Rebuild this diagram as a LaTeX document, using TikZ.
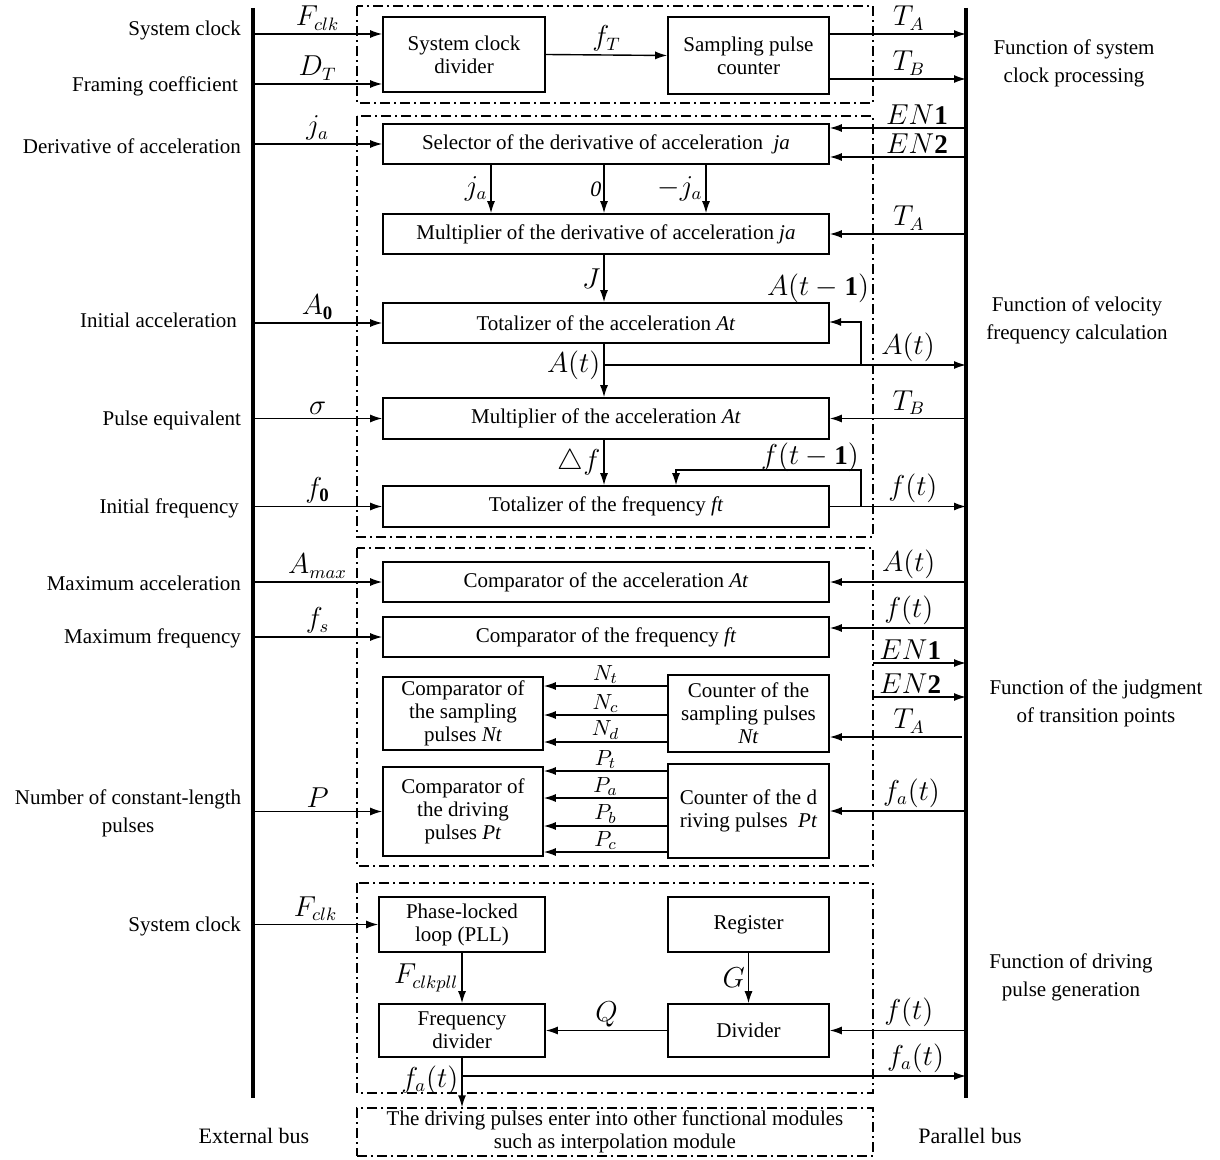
\documentclass[tikz,border=0pt]{standalone}
\usepackage{fontspec}
\setmainfont{Liberation Serif}
\usepackage{amsmath}
\usetikzlibrary{arrows.meta,calc}

\tikzset{
  blk/.style={draw, line width=0.8pt, inner sep=0pt, align=center, font=\fontsize{10.5}{11.5}\selectfont},
  grp/.style={draw, line width=0.7pt, dash pattern=on 5pt off 2pt on 1pt off 2pt},
  arr/.style={-{Latex[length=6pt,width=4pt]}, line width=0.7pt},
  bus/.style={line width=2pt},
  lab/.style={font=\fontsize{13.5}{15}\selectfont, inner sep=1.5pt},
  sig/.style={font=\fontsize{11}{13}\selectfont, inner sep=1pt},
  side/.style={font=\fontsize{10.5}{14}\selectfont, align=center},
}

\begin{document}
\begin{tikzpicture}[x=0.5pt,y=-0.5pt]
\useasboundingbox (0,0) rectangle (1220,1160);

% the two buses
\coordinate (lb) at (253,0);
\coordinate (rb) at (966,0);
\draw[bus] (253,8) -- (253,1098);
\draw[bus] (966,8) -- (966,1098);
\node[side, font=\fontsize{11}{14}\selectfont] (extbus) at (254,1136) {External bus};
\node[side, font=\fontsize{11}{14}\selectfont] (parbus) at (970,1136) {Parallel bus};

% function groups
\draw[grp] (357,6) rectangle (873,103);
\draw[grp] (357,116) rectangle (873,537);
\draw[grp] (357,548) rectangle (873,866);
\draw[grp] (357,883) rectangle (873,1093);

% blocks
\node[blk, minimum width=81pt, minimum height=37.5pt] (sdiv) at (464,54.5) {System clock\\divider};
\node[blk, minimum width=80.5pt, minimum height=38.5pt] (spc) at (748.5,55.5) {Sampling pulse\\counter};
\node[blk, minimum width=223pt, minimum height=20pt] (sel) at (606,144) {Selector of the derivative of acceleration \ \textit{ja}};
\node[blk, minimum width=223pt, minimum height=20pt] (mulj) at (606,234) {Multiplier of the derivative of acceleration \textit{ja}};
\node[blk, minimum width=223pt, minimum height=20pt] (tota) at (606,323) {Totalizer of the acceleration \textit{At}};
\node[blk, minimum width=223pt, minimum height=20.5pt] (mula) at (606,418.5) {Multiplier of the acceleration \textit{At}};
\node[blk, minimum width=223pt, minimum height=20.5pt] (totf) at (606,506.5) {Totalizer of the frequency \textit{ft}};
\node[blk, minimum width=223pt, minimum height=20pt] (cmpa) at (606,582) {Comparator of the acceleration \textit{At}};
\node[blk, minimum width=223pt, minimum height=20pt] (cmpf) at (606,637) {Comparator of the frequency \textit{ft}};
\node[blk, minimum width=80pt, minimum height=36.5pt] (cmpn) at (463,713.5) {Comparator of\\the sampling\\pulses \textit{Nt}};
\node[blk, minimum width=80.5pt, minimum height=38.5pt] (cntn) at (748.5,713.5) {Counter of the\\sampling pulses\\\textit{Nt}};
\node[blk, minimum width=80pt, minimum height=44.5pt] (cmpp) at (463,811.5) {Comparator of\\the driving\\pulses \textit{Pt}};
\node[blk, minimum width=80.5pt, minimum height=47pt] (cntp) at (748.5,811) {Counter of the d\\riving pulses \ \textit{Pt}};
\node[blk, minimum width=83pt, minimum height=27.5pt] (pll) at (462,924.5) {Phase-locked\\loop (PLL)};
\node[blk, minimum width=80.5pt, minimum height=27.5pt] (reg) at (748.5,924.5) {Register};
\node[blk, minimum width=83pt, minimum height=26.5pt] (fdiv) at (462,1030.5) {Frequency\\divider};
\node[blk, minimum width=80.5pt, minimum height=26.5pt] (dvd) at (748.5,1030.5) {Divider};
\node[blk, grp, minimum width=258pt, minimum height=24pt] (dest) at (615,1132) {The driving pulses enter into other functional modules\\such as interpolation module};

% external inputs
\coordinate (fclk) at (253,34);
\coordinate (dt) at (253,84);
\draw[arr] (fclk) -- (fclk -| sdiv.west) node[midway, above, lab] {$F_{clk}$};
\draw[arr] (dt) -- (dt -| sdiv.west) node[midway, above, lab] {$D_T$};
\draw[arr] (lb |- sel.west) -- (sel.west) node[midway, above, lab] {$j_a$};
\draw[arr] (lb |- tota.west) -- (tota.west) node[midway, above, lab] {$A_{\mathbf{0}}$};
\draw[arr] (lb |- mula.west) -- (mula.west) node[midway, above, lab] {$\sigma$};
\draw[arr] (lb |- totf.west) -- (totf.west) node[midway, above, lab] {$f_{\mathbf{0}}$};
\draw[arr] (lb |- cmpa.west) -- (cmpa.west) node[midway, above, lab] {$A_{max}$};
\draw[arr] (lb |- cmpf.west) -- (cmpf.west) node[midway, above, lab] {$f_s$};
\draw[arr] (lb |- cmpp.west) -- (cmpp.west) node[midway, above, lab] {$P$};
\draw[arr] (lb |- pll.west) -- (pll.west) node[midway, above, lab] {$F_{clk}$};

\node[side, anchor=east] (tclk) at (248,30) {System clock};
\node[side, anchor=east] (tfrm) at (245,86) {Framing coefficient};
\node[side, anchor=east] (tder) at (248,146) {Derivative of acceleration};
\node[side, anchor=east] (tacc) at (244,320) {Initial acceleration};
\node[side, anchor=east] (tpul) at (248,420) {Pulse equivalent};
\node[side, anchor=east] (tfrq) at (246,508) {Initial frequency};
\node[side, anchor=east] (tmxa) at (248,583) {Maximum acceleration};
\node[side, anchor=east] (tmxf) at (248,638) {Maximum frequency};
\node[side] (tnum) at (128,813) {Number of constant-length\\pulses};
\node[side, anchor=east] (tclk2) at (248,926) {System clock};

\node[side] (fsys) at (1074,63) {Function of system\\clock processing};
\node[side] (fvel) at (1077,320) {Function of velocity\\frequency calculation};
\node[side] (fjud) at (1096,703) {Function of the judgment\\of transition points};
\node[side] (fdrv) at (1071,977) {Function of driving\\pulse generation};

% clock processing
\coordinate (ta) at (966,34);
\coordinate (tb) at (966,79);
\draw[arr] (sdiv.east) -- (spc.west) node[midway, above, lab] {$f_T$};
\draw[arr] (spc.east |- ta) -- (ta) node[pos=0.58, above, lab] {$T_A$};
\draw[arr] (spc.east |- tb) -- (tb) node[pos=0.58, above, lab] {$T_B$};

% velocity frequency calculation
\coordinate (en1) at (966,128);
\coordinate (en2) at (966,157);
\draw[arr] (en1) -- (en1 -| sel.east) node[pos=0.36, above, lab] {$EN\mathbf{1}$};
\draw[arr] (en2) -- (en2 -| sel.east) node[pos=0.36, above, lab] {$EN\mathbf{2}$};
\coordinate (s1) at (491,0);
\coordinate (s2) at (604,0);
\coordinate (s3) at (706,0);
\draw[arr] (s1 |- sel.south) -- (s1 |- mulj.north) node[midway, left, lab] {$j_a$};
\draw[arr] (s2 |- sel.south) -- (s2 |- mulj.north) node[midway, left, sig] {\textit{0}};
\draw[arr] (s3 |- sel.south) -- (s3 |- mulj.north) node[midway, left, lab] {$-j_a$};
\draw[arr] (rb |- mulj.east) -- (mulj.east) node[pos=0.42, above, lab] {$T_A$};
\draw[arr] (s2 |- mulj.south) -- (s2 |- tota.north) node[midway, left, lab] {$J$};

\coordinate (atj) at (604,365);
\coordinate (afb) at (861,365);
\coordinate (afbin) at (829,322);
\draw[arr] (afb) |- (afbin);
\node[lab] (lafb) at (818,288) {$A(t-\mathbf{1})$};
\draw[arr] (s2 |- tota.south) -- (s2 |- mula.north) node[pos=0.4, left, lab] {$A(t)$};
\draw[arr] (atj) -- (rb |- atj) node[pos=0.84, above, lab] {$A(t)$};
\draw[arr] (rb |- mula.east) -- (mula.east) node[pos=0.42, above, lab] {$T_B$};
\draw[arr] (s2 |- mula.south) -- (s2 |- totf.north) node[midway, left, lab] {$\triangle f$};

\coordinate (ffb) at (861,506);
\coordinate (ffk) at (676,470);
\draw[arr] (ffb) |- (ffk) -- (ffk |- totf.north);
\node[lab] (lffb) at (810,457) {$f(t-\mathbf{1})$};
\draw[arr] (totf.east) -- (rb |- totf.east) node[pos=0.61, above, lab] {$f(t)$};

% judgment of transition points
\coordinate (fin) at (966,628);
\coordinate (e1) at (873,663);
\coordinate (e2) at (873,697);
\coordinate (tan) at (962,737);
\draw[arr] (rb |- cmpa.east) -- (cmpa.east) node[pos=0.42, above, lab] {$A(t)$};
\draw[arr] (fin) -- (fin -| cmpf.east) node[pos=0.42, above, lab] {$f(t)$};
\draw[arr] (e1) -- (rb |- e1) node[pos=0.4, above, lab] {$EN\mathbf{1}$};
\draw[arr] (e2) -- (rb |- e2) node[pos=0.4, above, lab] {$EN\mathbf{2}$};
\draw[arr] (tan) -- (tan -| cntn.east) node[pos=0.4, above, lab] {$T_A$};
\draw[arr] (rb |- cntp.east) -- (cntp.east) node[pos=0.4, above, lab] {$f_a(t)$};

\draw[arr] (cntn.west |- 0,686) -- (cmpn.east |- 0,686) node[midway, above, sig] {$N_t$};
\draw[arr] (cntn.west |- 0,715) -- (cmpn.east |- 0,715) node[midway, above, sig] {$N_c$};
\draw[arr] (cntn.west |- 0,742) -- (cmpn.east |- 0,742) node[midway, above, sig] {$N_d$};
\draw[arr] (cntp.west |- 0,771) -- (cmpp.east |- 0,771) node[midway, above, sig] {$P_t$};
\draw[arr] (cntp.west |- 0,798) -- (cmpp.east |- 0,798) node[midway, above, sig] {$P_a$};
\draw[arr] (cntp.west |- 0,826) -- (cmpp.east |- 0,826) node[midway, above, sig] {$P_b$};
\draw[arr] (cntp.west |- 0,852) -- (cmpp.east |- 0,852) node[midway, above, sig] {$P_c$};

% driving pulse generation
\draw[arr] (pll.south) -- (fdiv.north) node[midway, left, lab] {$F_{clkpll}$};
\draw[arr] (reg.south) -- (dvd.north) node[midway, left, lab] {$G$};
\draw[arr] (dvd.west) -- (fdiv.east) node[midway, above, lab] {$Q$};
\draw[arr] (rb |- dvd.east) -- (dvd.east) node[pos=0.42, above, lab] {$f(t)$};
\coordinate (faj) at (462,1076);
\draw[arr] (fdiv.south) -- (fdiv.south |- dest.north) node[pos=0.45, left, lab] {$f_a(t)$};
\draw[arr] (faj) -- (rb |- faj) node[pos=0.9, above, lab] {$f_a(t)$};
\end{tikzpicture}
\end{document}
